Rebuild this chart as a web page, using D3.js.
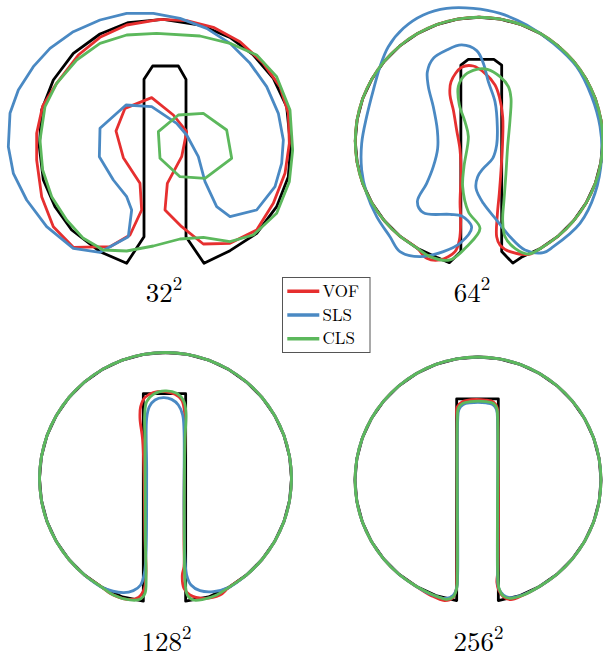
<!DOCTYPE html>
<html lang="en">
<head>
<meta charset="utf-8">
<title>Zalesak disk after one revolution</title>
<script src="https://cdn.jsdelivr.net/npm/d3@7"></script>
<style>
  body { margin: 0; background: #fff; }
  svg text { font-family: "Latin Modern Roman", "CMU Serif", "Liberation Serif", serif; fill: #000; }
</style>
</head>
<body>
<script>
// grid sizes shown under each panel
var grids = ["32", "64", "128", "256"];
var methods = ["VOF", "SLS", "CLS"];
var methodColors = ["#e62f2f", "#4a89c3", "#5cb85c"];

// rim of the disk (domain units, centre 50,75, radius 15), bottom right -> top -> bottom left
var diskRim = [[57.5,62.01],[59.64,63.51],[61.49,65.36],[62.99,67.5],[64.1,69.87],[64.77,72.4],[65,75],
  [64.77,77.6],[64.1,80.13],[62.99,82.5],[61.49,84.64],[59.64,86.49],[57.5,87.99],[55.13,89.1],[52.6,89.77],
  [50,90],[47.4,89.77],[44.87,89.1],[42.5,87.99],[40.36,86.49],[38.51,84.64],[37.01,82.5],[35.9,80.13],
  [35.23,77.6],[35,75],[35.23,72.4],[35.9,69.87],[37.01,67.5],[38.51,65.36],[40.36,63.51],[42.5,62.01]];

// ---- 32^2 ----
var exact32 = [[47.48,82.76],[48.52,84.36],[51.6,84.36],[52.52,82.76],[52.52,63.88],[54.68,60.68],[57.8,62.2],
  [61.0,64.28],[63.4,67.48],[64.8,71.08],[65.08,74.68],[64.6,79.48],[63.0,82.88],[60.6,85.68],[57.8,87.8],
  [54.2,89.28],[49.8,89.96],[45.6,89.56],[42.2,88.2],[39.0,85.88],[36.6,82.68],[35.2,79.08],[34.92,74.68],
  [35.4,70.68],[36.8,67.48],[38.8,64.68],[42.2,62.08],[45.4,60.68],[47.48,63.88]];
var vof32 = [[48.4,80.56],[45.2,79.28],[44.12,76.56],[45.0,73.36],[47.0,70.28],[47.2,67.08],[45.8,64.08],
  [43.4,62.68],[39.0,62.6],[36.6,65.08],[35.2,68.68],[34.6,73.08],[34.6,76.28],[35.32,79.56],[37.0,82.28],
  [39.6,85.68],[42.2,87.8],[45.4,89.28],[49.4,89.96],[52.6,89.8],[55.8,89.0],[59.0,87.28],[61.8,84.68],
  [63.8,81.88],[64.8,78.68],[64.92,75.08],[64.4,71.48],[63.0,67.88],[61.0,64.68],[57.8,63.08],[54.6,63.0],
  [52.0,65.08],[50.0,67.08],[50.28,70.28],[52.0,73.48],[52.6,76.48],[51.0,78.48]];
var sls32 = [[45.32,79.68],[48.4,79.48],[51.4,77.48],[52.6,76.08],[54.0,73.48],[54.8,70.48],[56.2,67.48],
  [57.8,66.28],[61.0,67.08],[63.2,69.88],[64.0,72.68],[64.2,75.48],[63.6,78.68],[62.2,81.88],[60.2,84.68],
  [57.8,87.08],[55.0,88.88],[51.8,90.08],[48.6,90.68],[45.4,90.68],[42.2,89.88],[39.0,88.48],[36.2,86.48],
  [34.2,84.28],[32.4,81.48],[31.4,78.68],[31.2,74.68],[31.8,71.48],[33.4,68.28],[35.8,65.08],[39.0,62.48],
  [42.2,62.0],[45.6,63.88],[46.0,67.08],[45.4,68.68],[43.8,70.68],[42.12,73.48],[42.2,76.88]];
var clsOuter32 = [[42.6,62.28],[45.4,62.16],[48.6,62.76],[51.8,63.6],[54.6,63.8],[57.8,63.28],[60.6,64.08],
  [63.4,66.68],[64.92,70.48],[65.32,74.28],[65.0,79.08],[63.4,83.08],[61.0,85.68],[57.8,87.08],[54.2,87.96],
  [49.0,88.28],[45.4,88.08],[42.2,87.08],[39.4,85.08],[37.0,82.28],[35.6,79.48],[35.0,75.48],[35.32,71.88],
  [36.4,68.68],[38.2,65.88],[40.2,63.68]];
var clsIsland32 = [[51.6,78.48],[54.6,78.68],[57.4,76.68],[58.0,73.28],[54.8,70.88],[51.8,71.08],[49.4,73.28],[49.2,76.48]];

// ---- 64^2 ---- (slot parts run bottom left -> up -> top -> down -> bottom right)
var exactSlot64 = [[44.87,60.9],[46.4,60.25],[47.8,61.6],[47.8,84.2],[48.7,84.9],[51.8,84.9],[52.75,84.2],
  [52.75,61.6],[54.1,60.2],[55.13,60.9]];
var vofSlot64 = [[43.66,60.78],[45.27,60.58],[47.09,61.59],[47.62,63.0],[47.78,65.42],[47.7,67.44],[47.82,71.08],
  [47.7,73.91],[47.29,76.33],[46.89,78.76],[46.48,80.58],[46.61,82.19],[47.9,83.93],[49.31,84.09],[50.73,83.2],
  [51.94,81.79],[52.46,80.37],[52.87,77.95],[52.87,75.12],[52.67,71.48],[52.46,68.66],[52.22,66.03],[52.14,63.4],
  [52.55,62.39],[53.76,61.59],[56.18,61.3]];
var sls64 = [[59.01,62.19],[62.24,65.02],[64.06,68.66],[64.87,73.1],[64.67,76.74],[63.66,80.37],[61.84,84.01],
  [59.01,86.84],[55.78,89.06],[52.55,90.47],[49.31,91.08],[46.08,91.08],[43.25,90.27],[40.83,88.66],[39.01,86.43],
  [38.0,84.01],[37.19,81.18],[36.38,77.95],[35.78,74.72],[35.78,71.48],[36.38,68.66],[37.6,65.83],[39.21,63.4],
  [40.42,61.59],[42.85,60.98],[45.68,61.59],[47.7,62.6],[49.11,64.54],[47.9,65.91],[46.48,66.11],[43.25,66.31],
  [42.53,67.65],[43.66,69.87],[44.46,71.89],[44.99,74.11],[44.95,76.33],[44.46,79.16],[43.86,81.59],[43.74,83.4],
  [44.46,85.02],[46.08,86.03],[47.9,86.64],[49.72,85.95],[50.53,84.41],[51.13,82.19],[51.94,79.77],[52.22,76.74],
  [52.14,74.52],[51.66,72.9],[50.53,71.69],[49.84,70.68],[49.64,69.26],[50.53,67.44],[52.14,65.42],[53.76,63.4],
  [55.58,61.79],[57.8,61.47]];
var clsSlot64 = [[44.06,60.98],[46.48,60.58],[48.5,62.19],[50.12,64.41],[48.71,66.43],[48.02,69.46],[48.18,71.89],
  [48.71,75.53],[48.3,77.34],[47.62,79.36],[47.49,81.59],[48.3,83.0],[49.72,83.69],[51.01,83.69],[52.55,82.8],
  [53.56,81.59],[53.88,80.17],[53.76,77.55],[53.47,74.31],[53.27,71.08],[53.03,67.85],[52.87,65.42],[53.15,63.4],
  [54.36,61.99],[55.98,61.3]];

// ---- 128^2 ----
var exactSlot128 = [[44.87,60.9],[47.36,60.4],[47.36,85.1],[52.4,85.1],[52.4,60.4],[55.13,60.9]];
var vofSlot128 = [[43.39,61.33],[45.38,60.62],[46.77,60.85],[47.48,61.92],[47.68,63.71],[47.56,67.68],[47.44,75.62],
  [47.28,79.58],[46.96,82.16],[47.04,83.55],[47.56,84.66],[48.55,85.22],[49.94,85.34],[51.13,85.02],[51.92,84.35],
  [52.24,83.15],[52.32,81.17],[52.24,75.62],[52.2,67.68],[52.2,64.5],[52.0,63.51],[52.2,61.92],[52.92,61.13],
  [54.5,60.74],[56.49,61.13]];
var slsSlot128 = [[44.98,61.41],[46.17,61.65],[47.04,62.32],[47.48,63.71],[47.68,66.09],[47.76,75.62],[47.76,82.16],
  [48.08,83.55],[48.75,84.34],[49.74,84.62],[50.73,84.42],[51.53,83.75],[52.04,82.56],[52.2,80.77],[52.2,71.65],
  [52.32,65.3],[52.52,63.51],[53.04,62.32],[54.11,61.65],[55.69,61.53]];
var clsSlot128 = [[43.79,61.13],[45.77,60.54],[46.96,60.62],[47.56,61.33],[47.68,63.71],[47.6,67.68],[47.56,79.58],
  [47.52,82.56],[47.76,84.15],[48.55,85.02],[49.94,85.42],[51.33,85.14],[52.2,84.15],[52.44,82.76],[52.32,79.58],
  [52.24,67.68],[52.32,62.92],[52.6,61.13],[53.31,60.54],[54.5,60.62],[56.09,61.13]];

// ---- 256^2 ----
var exactSlot256 = [[44.87,60.9],[47.4,60.3],[47.4,84.9],[52.48,84.9],[52.48,60.3],[55.13,60.9]];
var vofSlot256 = [[44.3,60.9],[45.9,60.3],[46.9,60.6],[47.35,61.7],[47.42,63.2],[47.45,82.2],[47.45,83.9],
  [48.1,84.55],[49.2,84.8],[50.9,84.75],[51.9,84.5],[52.35,83.8],[52.42,82.2],[52.42,64.0],[52.3,62.5],
  [52.55,61.5],[53.1,60.75],[54.0,60.4],[55.5,60.95]];
var slsSlot256 = [[44.4,61.0],[46.1,60.55],[46.95,60.9],[47.42,61.9],[47.52,63.6],[47.52,82.2],[47.68,83.6],
  [48.2,84.2],[49.0,84.4],[51.0,84.4],[51.8,84.2],[52.25,83.6],[52.38,82.2],[52.38,63.6],[52.5,61.9],
  [53.1,60.95],[53.9,60.65],[55.5,61.0]];
var clsSlot256 = [[44.55,60.98],[46.18,60.45],[46.99,60.77],[47.4,61.79],[47.48,63.62],[47.48,82.32],[47.6,83.74],
  [48.13,84.35],[49.02,84.55],[51.06,84.55],[51.87,84.35],[52.28,83.74],[52.4,82.32],[52.4,63.62],[52.56,61.79],
  [53.09,60.85],[53.9,60.57],[55.53,60.98]];

var width = 603, height = 658;

var svg = d3.select("body").append("svg")
    .attr("width", width)
    .attr("height", height);

var panels = [
  {cx: 165, cy: 144, k: 25 / 3, smooth: false, lx: 164, ly: 302,
   exact: exact32, sets: [[vof32], [sls32], [clsOuter32, clsIsland32]]},
  {cx: 479, cy: 141, k: 8.25, smooth: true, lx: 472, ly: 302,
   exact: diskRim.concat(exactSlot64), sets: [[diskRim.concat(vofSlot64)], [sls64], [diskRim.concat(clsSlot64)]]},
  {cx: 165.5, cy: 478.5, k: 8.4, smooth: true, lx: 166.5, ly: 651,
   exact: diskRim.concat(exactSlot128), sets: [[diskRim.concat(vofSlot128)], [diskRim.concat(slsSlot128)], [diskRim.concat(clsSlot128)]]},
  {cx: 478, cy: 480, k: 8.2, smooth: true, lx: 478.5, ly: 651,
   exact: diskRim.concat(exactSlot256), sets: [[diskRim.concat(vofSlot256)], [diskRim.concat(slsSlot256)], [diskRim.concat(clsSlot256)]]}
];

panels.forEach(function(p, i) {
    var x = d3.scaleLinear().domain([30, 70]).range([p.cx - 20 * p.k, p.cx + 20 * p.k]);
    var y = d3.scaleLinear().domain([55, 95]).range([p.cy + 20 * p.k, p.cy - 20 * p.k]);

    var sharp = d3.line().x(function(d) { return x(d[0]); }).y(function(d) { return y(d[1]); })
        .curve(d3.curveLinearClosed);
    var soft = d3.line().x(function(d) { return x(d[0]); }).y(function(d) { return y(d[1]); })
        .curve(p.smooth ? d3.curveCatmullRomClosed.alpha(0.5) : d3.curveLinearClosed);

    var g = svg.append("g").attr("class", "panel");

    // reference shape first, then VOF, SLS, CLS on top
    g.append("path")
        .attr("d", sharp(p.exact))
        .attr("fill", "none")
        .attr("stroke", "#000")
        .attr("stroke-width", 2.8)
        .attr("stroke-linejoin", "round");

    p.sets.forEach(function(loops, m) {
        g.selectAll(null)
            .data(loops)
            .enter()
            .append("path")
            .attr("d", soft)
            .attr("fill", "none")
            .attr("stroke", methodColors[m])
            .attr("stroke-width", 2.8)
            .attr("stroke-linejoin", "round");
    });

    var label = svg.append("text")
        .attr("x", p.lx)
        .attr("y", p.ly)
        .attr("text-anchor", "middle")
        .attr("font-size", 27);
    label.append("tspan").text(grids[i]);
    label.append("tspan").attr("dy", -12).attr("font-size", 19).text("2");
});

// legend
var legend = svg.append("g").attr("transform", "translate(282.5,277.5)");
legend.append("rect")
    .attr("width", 87.5)
    .attr("height", 75)
    .attr("fill", "#fff")
    .attr("stroke", "#555")
    .attr("stroke-width", 1);

var ly = d3.scalePoint().domain(methods).range([13.7, 61.3]);

legend.selectAll("line")
    .data(methods)
    .enter()
    .append("line")
    .attr("x1", 4.8)
    .attr("x2", 36.8)
    .attr("y1", function(d) { return ly(d); })
    .attr("y2", function(d) { return ly(d); })
    .attr("stroke", function(d, i) { return methodColors[i]; })
    .attr("stroke-width", 3.5);

legend.selectAll("text")
    .data(methods)
    .enter()
    .append("text")
    .attr("x", 40)
    .attr("y", function(d) { return ly(d) + 5.5; })
    .attr("font-size", 17)
    .text(function(d) { return d; });
</script>
</body>
</html>
